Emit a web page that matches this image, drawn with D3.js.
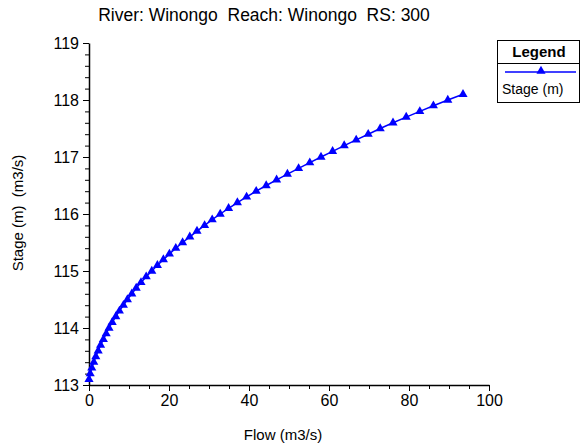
<!DOCTYPE html>
<html>
<head>
<meta charset="utf-8">
<script src="https://cdn.jsdelivr.net/npm/d3@7"></script>
<style>
  body { margin: 0; background: #fff; }
  svg { display: block; font-family: "Liberation Sans", Arial, sans-serif; }
  .tick text { font-size: 16px; fill: #000; }
</style>
</head>
<body>
<svg id="chart" width="581" height="445"></svg>
<script>
'use strict';

const TITLE = 'River: Winongo  Reach: Winongo  RS: 300';
const X_LABEL = 'Flow (m3/s)';
const Y_LABEL = 'Stage (m)  (m3/s)';
const SERIES_NAME = 'Stage (m)';

// rating curve points
const flow = [
  0.0, 0.3, 0.7, 1.2, 1.7, 2.3, 2.9, 3.6, 4.3, 5.0,
  5.8, 6.7, 7.6, 8.6, 9.6, 10.7, 11.8, 13.0, 14.3, 15.7,
  17.1, 18.6, 20.1, 21.7, 23.4, 25.2, 27.0, 28.9, 30.8, 32.8,
  34.9, 37.1, 39.4, 41.8, 44.3, 46.9, 49.6, 52.4, 55.2, 58.0,
  60.9, 63.8, 66.8, 69.8, 72.8, 76.0, 79.3, 82.7, 86.1, 89.7, 93.5
];
const stage = [
  113.1, 113.2, 113.3, 113.4, 113.5, 113.6, 113.7, 113.8, 113.9, 114.0,
  114.1, 114.2, 114.3, 114.4, 114.5, 114.6, 114.7, 114.8, 114.9, 115.0,
  115.1, 115.2, 115.3, 115.4, 115.5, 115.6, 115.7, 115.8, 115.9, 116.0,
  116.1, 116.2, 116.3, 116.4, 116.5, 116.6, 116.7, 116.8, 116.9, 117.0,
  117.1, 117.2, 117.3, 117.4, 117.5, 117.6, 117.7, 117.8, 117.9, 118.0, 118.1
];
const xTicks = [0, 20, 40, 60, 80, 100];
const yTicks = [113, 114, 115, 116, 117, 118, 119];

const points = flow.map((q, i) => ({ q: q, h: stage[i] }));

const svg = d3.select('#chart');
const x = d3.scaleLinear().domain([0, 100]).range([89, 489]);
const y = d3.scaleLinear().domain([113, 119]).range([385, 43]);

// minor ticks first, then major axes on top
svg.append('g')
  .attr('transform', 'translate(0,385)')
  .call(d3.axisBottom(x).ticks(25).tickSize(4).tickFormat(''))
  .call((g) => g.select('.domain').remove())
  .selectAll('line').attr('stroke', '#000');

svg.append('g')
  .attr('transform', 'translate(89,0)')
  .call(d3.axisLeft(y).ticks(30).tickSize(4).tickFormat(''))
  .call((g) => g.select('.domain').remove())
  .selectAll('line').attr('stroke', '#000');

const xAxis = svg.append('g')
  .attr('transform', 'translate(0,385)')
  .call(d3.axisBottom(x).tickValues(xTicks).tickSize(6).tickSizeOuter(0).tickPadding(4).tickFormat(d3.format('d')));
xAxis.select('.domain').attr('stroke', '#000').attr('stroke-width', 1.5);

const yAxis = svg.append('g')
  .attr('transform', 'translate(89,0)')
  .call(d3.axisLeft(y).tickValues(yTicks).tickSize(6).tickSizeOuter(0).tickPadding(4).tickFormat(d3.format('d')));
yAxis.select('.domain').attr('stroke', '#000').attr('stroke-width', 1.5);
yAxis.selectAll('.tick text').attr('dy', '0.36em');

// title and axis labels
svg.append('text')
  .attr('x', 264).attr('y', 21)
  .attr('text-anchor', 'middle')
  .style('font-size', '17.5px')
  .style('white-space', 'pre')
  .text(TITLE);

svg.append('text')
  .attr('x', 283).attr('y', 440)
  .attr('text-anchor', 'middle')
  .style('font-size', '15px')
  .text(X_LABEL);

svg.append('text')
  .attr('transform', 'translate(23,213) rotate(-90)')
  .attr('text-anchor', 'middle')
  .style('font-size', '15px')
  .style('white-space', 'pre')
  .text(Y_LABEL);

// series
const line = d3.line().x((d) => x(d.q)).y((d) => y(d.h));
svg.append('path')
  .datum(points)
  .attr('fill', 'none')
  .attr('stroke', '#0000ff')
  .attr('stroke-width', 1.5)
  .attr('d', line);

const tri = d3.symbol().type(d3.symbolTriangle).size(36);
svg.append('g')
  .selectAll('path')
  .data(points)
  .join('path')
  .attr('transform', (d) => `translate(${x(d.q)},${y(d.h)})`)
  .attr('d', tri)
  .attr('fill', '#0000ff');

// legend
const legend = svg.append('g');
legend.append('rect')
  .attr('x', 497.5).attr('y', 40.5)
  .attr('width', 82).attr('height', 62)
  .attr('fill', '#fff').attr('stroke', '#000');
legend.append('line')
  .attr('x1', 497.5).attr('x2', 579.5)
  .attr('y1', 63.5).attr('y2', 63.5)
  .attr('stroke', '#000');
legend.append('text')
  .attr('x', 539).attr('y', 57)
  .attr('text-anchor', 'middle')
  .style('font-size', '15px')
  .style('font-weight', 'bold')
  .text('Legend');
legend.append('line')
  .attr('x1', 505).attr('x2', 576)
  .attr('y1', 72).attr('y2', 72)
  .attr('stroke', '#0000ff').attr('stroke-width', 1.5);
legend.append('path')
  .attr('transform', 'translate(541,71)')
  .attr('d', tri)
  .attr('fill', '#0000ff');
legend.append('text')
  .attr('x', 502).attr('y', 94)
  .style('font-size', '14px')
  .text(SERIES_NAME);
</script>
</body>
</html>
